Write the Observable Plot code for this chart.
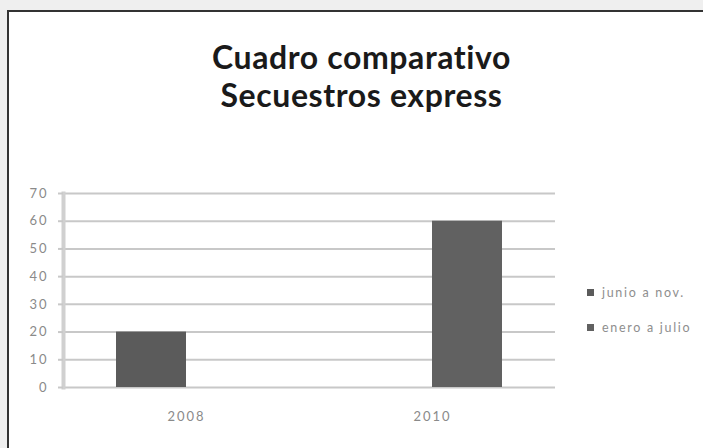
<!DOCTYPE html>
<html><head><meta charset="utf-8">
<script src="https://cdn.jsdelivr.net/npm/d3@7"></script>
<script src="https://cdn.jsdelivr.net/npm/@observablehq/plot@0.6"></script>
<style>
html,body{margin:0;padding:0;width:703px;height:448px;overflow:hidden;background:#efefef;font-family:Lato,sans-serif}
#box{position:absolute;left:7px;top:10px;width:720px;height:460px;background:#fff;border-left:2px solid #333;border-top:2px solid #333}
#title{position:absolute;left:10px;width:703px;top:38px;text-align:center;font-weight:bold;font-size:32px;line-height:38px;letter-spacing:0.6px;color:#1a1a1a}
#chart{position:absolute;left:0;top:150px}
#legend{position:absolute;left:587px;top:275px;font-size:12.5px;letter-spacing:1.7px;color:#8e8e8e;white-space:nowrap}
.item{display:flex;align-items:center;height:35px}
.sw{width:7px;height:7px;margin-right:8px}
</style>
</head><body>
<div id="box"></div>
<div id="title">Cuadro comparativo<br>Secuestros express</div>
<div id="chart"></div>
<div id="legend"></div>
<script>
const years = ["2008", "2010"];
const series = ["junio a nov.", "enero a julio"];
const barYears = ["2008", "2010"];
const barSeries = ["junio a nov.", "enero a julio"];
const barValues = [20, 60];
const yTicks = [0, 10, 20, 30, 40, 50, 60, 70];
const colors = ["#5b5b5b", "#616161"];

const rows = barValues.map((v, i) => ({year: barYears[i], serie: barSeries[i], value: v}));

const chart = Plot.plot({
  width: 703, height: 298,
  marginLeft: 63, marginRight: 148, marginTop: 43, marginBottom: 61,
  style: {fontFamily: "Lato, sans-serif", background: "transparent", letterSpacing: "2px"},
  fx: {domain: years, padding: 0, label: null},
  x: {domain: series, paddingInner: 0, paddingOuter: 0.75, axis: null},
  y: {domain: [0, 70]},
  color: {domain: series, range: colors},
  marks: [
    Plot.ruleY(yTicks, {stroke: "#c8c8c8", strokeWidth: 2}),
    Plot.frame({anchor: "left", facetAnchor: "left", stroke: "#d0d0d0", strokeWidth: 4}),
    Plot.axisY(yTicks, {tickSize: 5, tickPadding: 10, stroke: "#c8c8c8", strokeWidth: 2, fill: "#8a8a8a", fontSize: 13, label: null}),
    Plot.barY(rows, {fx: "year", x: "serie", y: "value", fill: "serie"}),
    Plot.axisFx({anchor: "bottom", tickSize: 0, tickPadding: 24, fill: "#8a8a8a", fontSize: 13, label: null})
  ]
});
document.getElementById("chart").appendChild(chart);

const leg = document.getElementById("legend");
series.forEach((s, i) => {
  const it = document.createElement("div");
  it.className = "item";
  const sw = document.createElement("span");
  sw.className = "sw";
  sw.style.background = colors[i];
  it.appendChild(sw);
  it.appendChild(document.createTextNode(s));
  leg.appendChild(it);
});
</script>
</body></html>
